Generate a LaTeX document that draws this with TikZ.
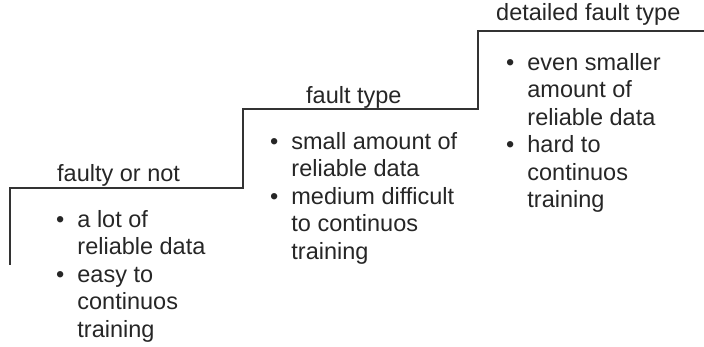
\documentclass[tikz,border=0pt]{standalone}
\usepackage{fontspec}
\setmainfont{Liberation Sans}
\newcommand{\pointlist}[1]{\begin{tabular}[t]{@{}l@{\hspace{13pt}}l@{}}#1\end{tabular}}
\begin{document}
\begin{tikzpicture}[x=1pt,y=-1pt,
    head/.style={anchor=base west,inner sep=0pt,text=black!85,
      font=\fontsize{23.5}{27.5}\selectfont},
    points/.style={anchor=base west,inner sep=0pt,text=black!85,
      font=\fontsize{23.5}{27.5}\selectfont}]
  \useasboundingbox (0,0) rectangle (704,347);
  % staircase
  \draw[line width=2pt,black!80]
    (10,265) -- (10,188) -- (243,188) -- (243,109)
    -- (478,109) -- (478,31) -- (704,31);
  % level titles
  \node[head] (lvl1) at (57,182) {faulty or not};
  \node[head] (lvl2) at (306,104) {fault type};
  \node[head] (lvl3) at (496,21) {detailed fault type};
  % bullet points
  \node[points] (pts1) at (56,227.5) {\pointlist{%
      \textbullet & a lot of\\
                  & reliable data\\
      \textbullet & easy to\\
                  & continuos\\
                  & training}};
  \node[points] (pts2) at (270,149.5) {\pointlist{%
      \textbullet & small amount of\\
                  & reliable data\\
      \textbullet & medium difficult\\
                  & to continuos\\
                  & training}};
  \node[points] (pts3) at (506,70.5) {\pointlist{%
      \textbullet & even smaller\\
                  & amount of\\
                  & reliable data\\
      \textbullet & hard to\\
                  & continuos\\
                  & training}};
\end{tikzpicture}
\end{document}
